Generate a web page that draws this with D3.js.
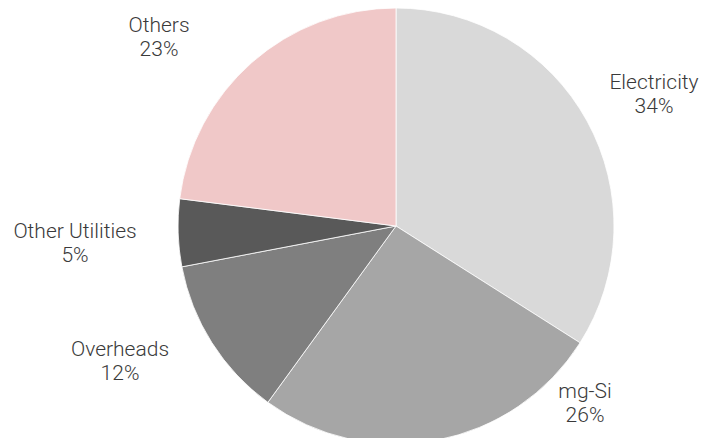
<!DOCTYPE html>
<html>
<head>
<meta charset="utf-8">
<script src="https://cdn.jsdelivr.net/npm/d3@7"></script>
<style>
  html, body { margin: 0; padding: 0; background: #fff; }
  svg { display: block; }
  text { font-family: Roboto, "Noto Sans", sans-serif; font-weight: 300; }
</style>
</head>
<body>
<svg id="chart" width="704" height="438"></svg>
<script>
// Cost breakdown shares, in percent, clockwise from 12 o'clock
const categories = ["Electricity", "mg-Si", "Overheads", "Other Utilities", "Others"];
const shares = [34, 26, 12, 5, 23];
const colors = ["#d9d9d9", "#a6a6a6", "#7f7f7f", "#595959", "#f0c8c8"];

// Label anchor points (first baseline, centred), relative to the pie centre
const labelOffsets = [[258, -137], [189, 172], [-276, 130], [-321, 12], [-237, -194]];

const width = 704, height = 438;
const cx = 396, cy = 226, radius = 218;

const svg = d3.select("#chart");
const g = svg.append("g").attr("transform", `translate(${cx},${cy})`);

const data = categories.map((c, i) => ({ name: c, value: shares[i], color: colors[i], off: labelOffsets[i] }));

const pie = d3.pie().value(d => d.value).sort(null);
const arc = d3.arc().innerRadius(0).outerRadius(radius);

const arcs = pie(data);

g.selectAll("path.slice")
  .data(arcs)
  .join("path")
  .attr("class", "slice")
  .attr("d", arc)
  .attr("fill", d => d.data.color)
  .attr("stroke", "#ffffff")
  .attr("stroke-width", 0.8);

const fmt = d3.format(".0%");
const total = d3.sum(shares);

const labels = g.selectAll("text.label")
  .data(arcs)
  .join("text")
  .attr("class", "label")
  .attr("text-anchor", "middle")
  .attr("fill", "#3a3a3a")
  .attr("font-size", 21)
  .attr("transform", d => `translate(${d.data.off[0]},${d.data.off[1]})`);

labels.append("tspan")
  .attr("x", 0)
  .attr("dy", 0)
  .text(d => d.data.name);
labels.append("tspan")
  .attr("x", 0)
  .attr("dy", 24)
  .text(d => fmt(d.data.value / total));
</script>
</body>
</html>
